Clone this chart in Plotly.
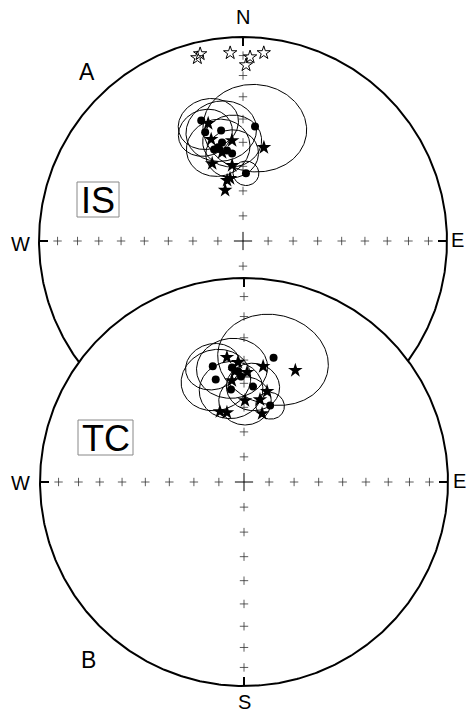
import numpy as np
import plotly.graph_objects as go

# ---- canvas / net geometry (plot units, y increases downward) ----
FIG_W, FIG_H = 474, 713
NET_R = 204
IS_CENTER = (243, 241)
TC_CENTER = (244, 482)
TICK_LEN = 9

# ---- in situ (IS) site-mean directions ----
is_dot_dec = [340.9, 340.8, 348.8, 6.0, 348.0, 345.1, 350.0, 352.9, 2.5, 342.5]
is_dot_inc = [37.5, 43.0, 44.0, 43.0, 49.1, 50.7, 52.8, 54.4, 62.8, 51.1]
is_star_dec = [343.5, 353.8, 12.6, 338.3, 351.8, 348.3, 345.3, 340.6, 342.6, 346.7]
is_star_inc = [39.7, 49.0, 51.2, 56.4, 59.3, 64.4, 64.9, 68.5, 46.7, 53.3]
# upper-hemisphere (negative inclination) directions
is_open_dec = [347.1, 346.0, 356.1, 2.2, 6.3, 1.0]
is_open_inc = [-6.6, -8.3, -8.4, -10.7, -8.0, -14.8]
# alpha-95 confidence cones
is_cone_dec = [6.0, 343.5, 348.8, 345.1, 352.9, 353.8, 2.5, 340.8]
is_cone_inc = [43.0, 39.7, 44.0, 50.7, 54.4, 49.0, 62.8, 43.0]
is_cone_a95 = [19.0, 11.0, 13.0, 12.0, 10.0, 11.0, 5.0, 10.0]

# ---- tilt-corrected (TC) site-mean directions ----
tc_dot_dec = [13.4, 344.9, 344.6, 352.0, 5.4, 18.9, 354.0, 356.9, 358.4]
tc_dot_inc = [37.5, 40.9, 46.7, 52.2, 51.2, 57.5, 43.0, 44.8, 47.1]
tc_star_dec = [24.7, 352.2, 357.1, 9.4, 1.6, 0.7, 341.1, 346.2, 14.3, 11.0, 14.8, 355.3, 353.2]
tc_star_inc = [39.6, 38.3, 40.9, 42.1, 45.3, 57.2, 60.1, 61.3, 52.2, 56.2, 61.6, 44.7, 48.5]
tc_cone_dec = [13.4, 344.9, 344.6, 354.0, 352.0, 5.4, 18.9, 0.7]
tc_cone_inc = [37.5, 40.9, 46.7, 43.0, 52.2, 51.2, 57.5, 57.2]
tc_cone_a95 = [20.0, 10.0, 13.0, 13.0, 12.0, 10.0, 5.5, 10.0]

# graticule ticks every 10 degrees of inclination along N, E, S, W
tick_inc = [10, 20, 30, 40, 50, 60, 70, 80]
tick_az = [0, 90, 180, 270]

FONT = "Liberation Sans, Arial, sans-serif"


def project(dec, inc, center, R=NET_R):
    """Lambert equal-area (Schmidt) projection, |inc| plotted downward."""
    d = np.radians(np.asarray(dec, float))
    i = np.radians(np.abs(np.asarray(inc, float)))
    rho = R * np.sqrt(1.0 - np.sin(i))
    return center[0] + rho * np.sin(d), center[1] - rho * np.cos(d)


def small_circle(dec, inc, a95, n=241):
    d, i, a = np.radians([dec, inc, a95])
    c = np.array([np.cos(i) * np.cos(d), np.cos(i) * np.sin(d), np.sin(i)])
    u = np.array([-np.sin(i) * np.cos(d), -np.sin(i) * np.sin(d), np.cos(i)])
    v = np.cross(c, u)
    t = np.linspace(0, 2 * np.pi, n)
    p = np.cos(a) * c[:, None] + np.sin(a) * (np.cos(t) * u[:, None] + np.sin(t) * v[:, None])
    return np.degrees(np.arctan2(p[1], p[0])), np.degrees(np.arcsin(np.clip(p[2], -1, 1)))


def net_traces(center, fill_white=False):
    out = []
    az = np.linspace(0, 360, 721)
    px, py = project(az, np.zeros_like(az), center)
    out.append(go.Scatter(x=px, y=py, mode="lines",
                          line=dict(color="black", width=2),
                          fill="toself" if fill_white else None,
                          fillcolor="white", hoverinfo="skip"))
    # graticule crosses
    tx, ty = [], []
    for a in tick_az:
        x, y = project([a] * len(tick_inc), tick_inc, center)
        tx += list(x)
        ty += list(y)
    out.append(go.Scatter(x=tx, y=ty, mode="markers",
                          marker=dict(symbol="cross-thin", size=6,
                                      line=dict(color="#333333", width=0.8)),
                          hoverinfo="skip"))
    # centre cross
    out.append(go.Scatter(x=[center[0]], y=[center[1]], mode="markers",
                          marker=dict(symbol="cross-thin", size=13,
                                      line=dict(color="black", width=1)),
                          hoverinfo="skip"))
    # cardinal ticks on the primitive
    ex, ey = [], []
    for a in tick_az:
        r = np.radians(a)
        sx, sy = np.sin(r), -np.cos(r)
        ex += [center[0] + NET_R * sx, center[0] + (NET_R - TICK_LEN) * sx, None]
        ey += [center[1] + NET_R * sy, center[1] + (NET_R - TICK_LEN) * sy, None]
    out.append(go.Scatter(x=ex, y=ey, mode="lines",
                          line=dict(color="black", width=2), hoverinfo="skip"))
    return out


def data_traces(center, dots, stars, cones, opens=None):
    out = []
    for dd, ii, aa in zip(*cones):
        cd, ci = small_circle(dd, ii, aa)
        x, y = project(cd, ci, center)
        out.append(go.Scatter(x=x, y=y, mode="lines",
                              line=dict(color="black", width=1), hoverinfo="skip"))
    x, y = project(dots[0], dots[1], center)
    out.append(go.Scatter(x=x, y=y, mode="markers",
                          marker=dict(symbol="circle", size=8, color="black"),
                          hoverinfo="skip"))
    x, y = project(stars[0], stars[1], center)
    out.append(go.Scatter(x=x, y=y, mode="markers",
                          marker=dict(symbol="star", size=11, color="black"),
                          hoverinfo="skip"))
    if opens is not None:
        x, y = project(opens[0], opens[1], center)
        out.append(go.Scatter(x=x, y=y, mode="markers",
                              marker=dict(symbol="star-open", size=10, color="black",
                                          line=dict(width=1)),
                              hoverinfo="skip"))
    return out


fig = go.Figure()
# upper net (in situ)
for t in net_traces(IS_CENTER):
    fig.add_trace(t)
for t in data_traces(IS_CENTER, (is_dot_dec, is_dot_inc), (is_star_dec, is_star_inc),
                     (is_cone_dec, is_cone_inc, is_cone_a95), (is_open_dec, is_open_inc)):
    fig.add_trace(t)
# lower net (tilt corrected), drawn over the upper one
for t in net_traces(TC_CENTER, fill_white=True):
    fig.add_trace(t)
for t in data_traces(TC_CENTER, (tc_dot_dec, tc_dot_inc), (tc_star_dec, tc_star_inc),
                     (tc_cone_dec, tc_cone_inc, tc_cone_a95)):
    fig.add_trace(t)

labels = [
    ("N", IS_CENTER[0], 17, 20),
    ("W", 20, IS_CENTER[1] + 3, 20),
    ("E", 457, IS_CENTER[1] - 1, 20),
    ("W", 20, TC_CENTER[1] + 1, 20),
    ("E", 459, TC_CENTER[1] - 1, 20),
    ("S", TC_CENTER[0], 702, 20),
    ("A", 87, 72, 23),
    ("B", 88, 660, 23),
    ("IS", 98, 200, 36),
    ("TC", 106, 438, 36),
]
for txt, x, y, sz in labels:
    fig.add_annotation(x=x, y=y, xref="x", yref="y", text=txt, showarrow=False,
                       font=dict(family=FONT, size=sz, color="black"),
                       xanchor="center", yanchor="middle")

# frames round the panel tags
for x0, y0, x1, y1 in [(77, 182, 119, 217), (78, 420, 133, 455)]:
    fig.add_shape(type="rect", x0=x0, y0=y0, x1=x1, y1=y1, xref="x", yref="y",
                  line=dict(color="#888888", width=1))

fig.update_layout(
    width=FIG_W, height=FIG_H,
    margin=dict(l=0, r=0, t=0, b=0),
    paper_bgcolor="white", plot_bgcolor="white",
    showlegend=False,
    xaxis=dict(range=[0, FIG_W], visible=False, fixedrange=True),
    yaxis=dict(range=[FIG_H, 0], visible=False, fixedrange=True),
)

fig.write_html("out.html")
